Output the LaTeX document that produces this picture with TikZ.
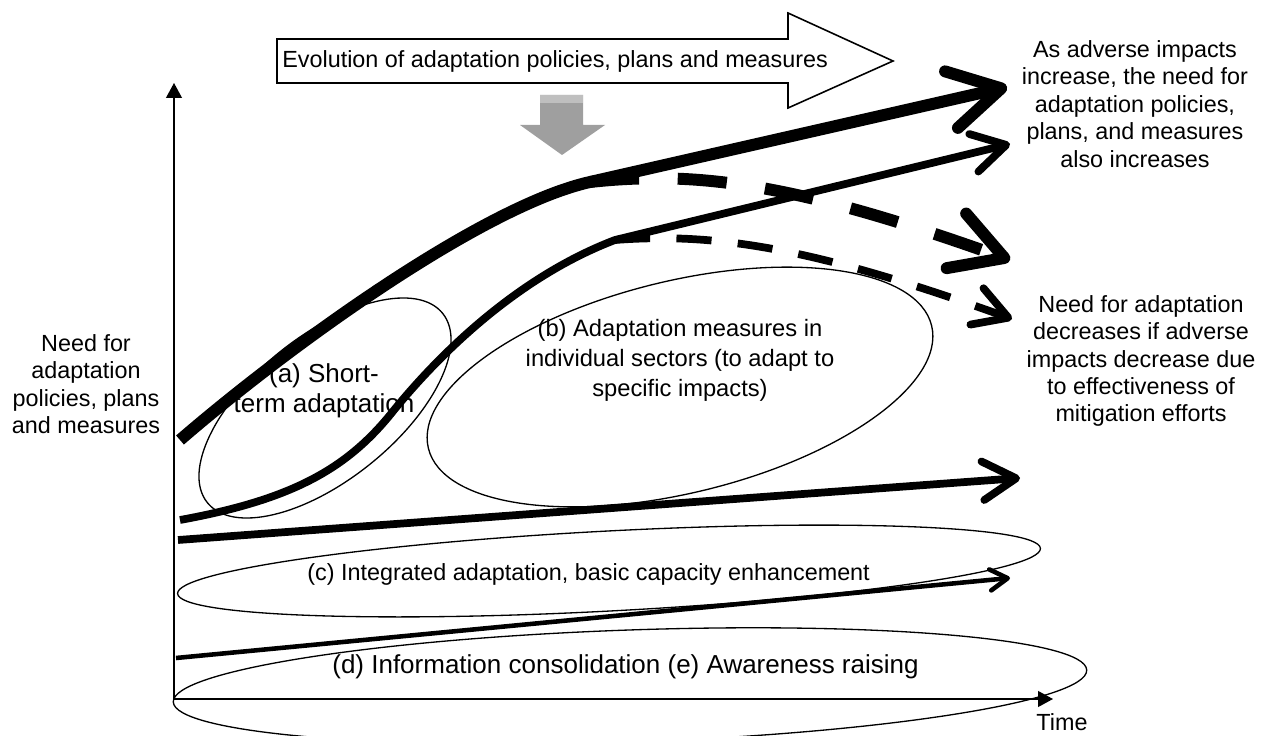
\documentclass[tikz,border=0pt]{standalone}
\usepackage{fontspec}
\setmainfont{Liberation Sans}
\usetikzlibrary{arrows.meta}
\tikzset{
    lbl/.style = {
        align=center,
        inner sep=0pt,
        font=\fontsize{13.3}{15.6}\selectfont,
        },
    lbl wide/.style = {
        lbl,
        font=\fontsize{13.5}{17}\selectfont,
        },
    lbl big/.style = {
        lbl,
        font=\fontsize{14.8}{17}\selectfont,
        },
    axis/.style = {
        line width=0.9pt,
        -{Triangle[length=8.5pt,width=9pt]},
        },
    zone/.style = {
        line width=0.75pt,
        },
    need big/.style = {
        line width=6.8pt,
        -{Straight Barb[length=29pt,width=33pt,round]},
        },
    need mid/.style = {
        line width=4.4pt,
        -{Straight Barb[length=19pt,width=22pt,round]},
        },
    need small/.style = {
        line width=2.6pt,
        -{Straight Barb[length=10pt,width=12pt,round]},
        },
    drop big/.style = {
        need big,
        dash pattern=on 28pt off 22pt,
        },
    drop mid/.style = {
        need mid,
        dash pattern=on 20pt off 15pt,
        },
}
\begin{document}
\begin{tikzpicture}[x=0.02cm,y=-0.02cm]
\useasboundingbox (0,0) rectangle (1261,736);

% axes
\coordinate (O) at (174,699);
\coordinate (ytop) at (174,83);
\coordinate (xend) at (1053,699);
\draw[axis] (O) -- (ytop);
\draw[axis] (O) -- (xend);
\node[lbl] (time) at (1062,722) {Time};
\node[lbl] (ylabel) at (86,384) {Need for\\adaptation\\policies, plans\\and measures};

% evolution arrow
\draw[line width=0.9pt, fill=white] (277,39) -- (788,39) -- (788,13) -- (893,61)
    -- (788,108) -- (788,83) -- (277,83) -- cycle;
\node[lbl, anchor=base west] (evol) at (282,68) {Evolution of adaptation policies, plans and measures};
\fill[gray!75] (540,95) -- (583,95) -- (583,125) -- (605,125) -- (562,155)
    -- (520,125) -- (540,125) -- cycle;
\fill[gray!50] (540,95) rectangle (583,103);

% zones
\draw[zone, rotate around={38.8:(325,408)}] (325,408) ellipse [x radius=151, y radius=72];
\draw[zone, rotate around={13.7:(680,387)}] (680,387) ellipse [x radius=259, y radius=106];
\draw[zone, rotate around={3:(609,571)}] (609,571) ellipse [x radius=432, y radius=40];
\draw[zone, rotate around={2:(630,686)}] (630,686) ellipse [x radius=457, y radius=56];

\node[lbl big] (za) at (324,391) {(a) Short-\\term adaptation};
\node[lbl wide] (zb) at (680,360) {(b) Adaptation measures in\\individual sectors (to adapt to\\specific impacts)};
\node[lbl, anchor=base west] (zc) at (307,580) {(c) Integrated adaptation, basic capacity enhancement};
\node[lbl big, anchor=base west] (zd) at (332,673) {(d) Information consolidation (e) Awareness raising};

% need curves
\coordinate (s1) at (180,440);
\coordinate (b1) at (590,182);
\coordinate (e1) at (1007,87);
\coordinate (d1) at (1010,260);
\coordinate (s2) at (180,520);
\coordinate (b2) at (615,240);
\coordinate (e2) at (1010,144);
\coordinate (d2) at (1012,319);
\coordinate (s3) at (178,540);
\coordinate (e3) at (1020,478);
\coordinate (s4) at (176,658);
\coordinate (e4) at (1010,578);

\draw[need big] (s1) .. controls (290,345) and (483,206) .. (b1) -- (e1);
\draw[drop big] (b1) .. controls (700,170) and (800,185) .. (d1);
\draw[need mid] (s2) .. controls (290,500) and (345,470) .. (390,415)
    .. controls (430,365) and (510,280) .. (b2) -- (e2);
\draw[drop mid] (b2) .. controls (720,232) and (820,250) .. (d2);
\draw[need mid] (s3) -- (e3);
\draw[need small] (s4) -- (e4);

\node[lbl] (rise) at (1135,104) {As adverse impacts\\increase, the need for\\adaptation policies,\\plans, and measures\\also increases};
\node[lbl] (fall) at (1141,361) {Need for adaptation\\decreases if adverse\\impacts decrease due\\to effectiveness of\\mitigation efforts};
\end{tikzpicture}
\end{document}
